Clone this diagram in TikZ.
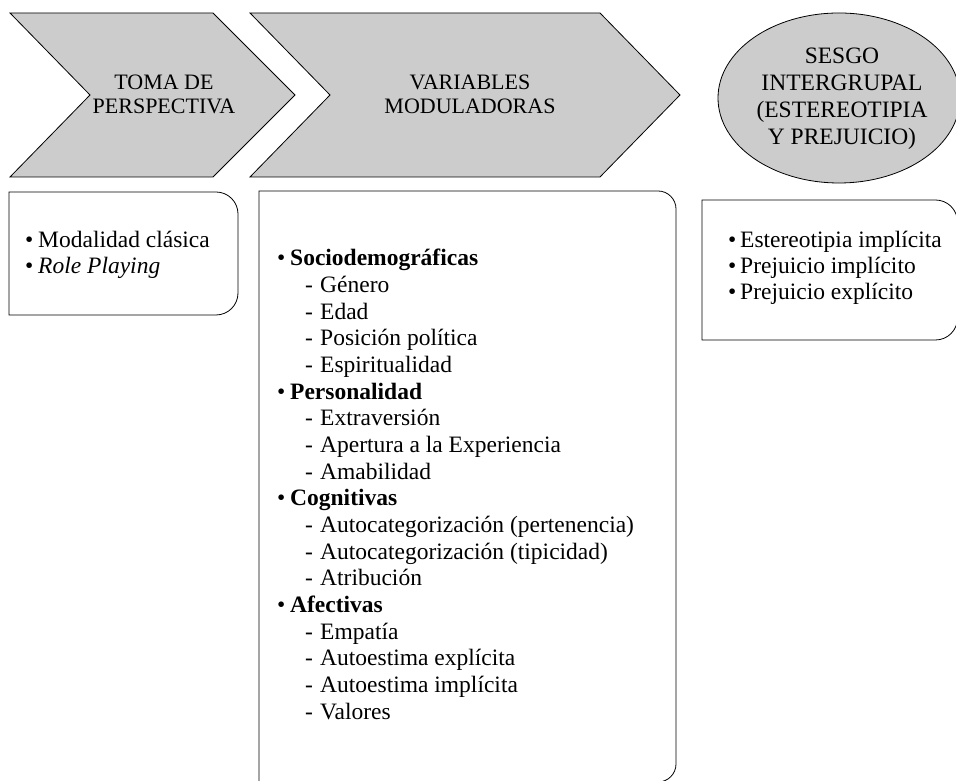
\documentclass[tikz,border=0pt]{standalone}
\usepackage{fontspec}
\setmainfont{Liberation Serif}
\definecolor{shapegray}{RGB}{204,204,204}
\newcommand\bl[2][13pt]{\makebox[#1][l]{•}#2}
\newcommand\dl[1]{\hspace*{28pt}\makebox[15pt][l]{-}#1}
\begin{document}
\begin{tikzpicture}[x=1pt,y=1pt,
  shapefill/.style={draw=black,line width=0.8pt,fill=shapegray},
  boxline/.style={draw=black,line width=0.8pt},
  headtext/.style={font=\fontsize{22}{24}\selectfont,align=center,inner sep=0pt},
  ovaltext/.style={font=\fontsize{23.5}{27}\selectfont,align=center,inner sep=0pt},
  listtext/.style={align=left,inner sep=0pt,anchor=base west}]
\useasboundingbox (0,0) rectangle (956,781);
\clip (0,0) rectangle (956,781);
% chevrons and oval
\draw[shapefill] (10,768) -- (213,768) -- (295,686) -- (213,604) -- (10,604) -- (90,686) -- cycle;
\draw[shapefill] (250,768) -- (600,768) -- (680,686) -- (600,604) -- (250,604) -- (330,686) -- cycle;
\draw[shapefill] (839,683) ellipse[x radius=121,y radius=85];
\node[headtext] (toma) at (164,687) {TOMA DE\\PERSPECTIVA};
\node[headtext] (vars) at (470,687) {VARIABLES\\MODULADORAS};
\node[ovaltext] (sesgo) at (842,682.5) {SESGO\\INTERGRUPAL\\(ESTEREOTIPIA\\Y PREJUICIO)};
% boxes
\draw[boxline] (9,589) -- (216,589) arc[start angle=90,end angle=0,radius=22] -- (238,488) arc[start angle=0,end angle=-90,radius=22] -- (9,466) -- cycle;
\draw[boxline] (259,-1) -- (259,590) -- (658,590) arc[start angle=90,end angle=0,radius=18] -- (676,17) arc[start angle=0,end angle=-90,radius=18] -- (658,-1);
\draw[boxline] (702,581) -- (935.5,581) arc[start angle=90,end angle=0,radius=22] -- (957.5,463) arc[start angle=0,end angle=-90,radius=22] -- (935.5,441) -- (702,441) -- cycle;
\node[listtext,font=\fontsize{23.5}{25.5}\selectfont] (modos) at (25,507.5) {\bl{Modalidad clásica}\\\bl{\textit{Role Playing}}};
\node[listtext,font=\fontsize{23.5}{26.65}\selectfont] (lista) at (277,61.95) {\bl{\textbf{Sociodemográficas}}\\
\dl{Género}\\
\dl{Edad}\\
\dl{Posición política}\\
\dl{Espiritualidad}\\
\bl{\textbf{Personalidad}}\\
\dl{Extraversión}\\
\dl{Apertura a la Experiencia}\\
\dl{Amabilidad}\\
\bl{\textbf{Cognitivas}}\\
\dl{Autocategorización (pertenencia)}\\
\dl{Autocategorización (tipicidad)}\\
\dl{Atribución}\\
\bl{\textbf{Afectivas}}\\
\dl{Empatía}\\
\dl{Autoestima explícita}\\
\dl{Autoestima implícita}\\
\dl{Valores}};
\node[listtext,font=\fontsize{23.5}{26}\selectfont] (sesgos) at (728,481) {\bl[12pt]{Estereotipia implícita}\\\bl[12pt]{Prejuicio implícito}\\\bl[12pt]{Prejuicio explícito}};
\end{tikzpicture}
\end{document}
